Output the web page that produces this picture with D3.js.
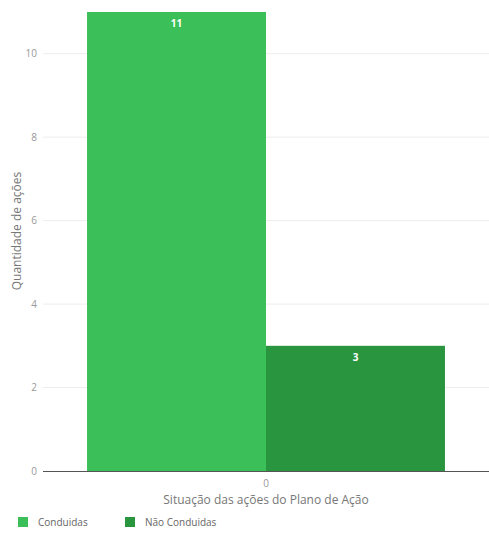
<!DOCTYPE html>
<html><head><meta charset="utf-8">
<script src="https://cdn.jsdelivr.net/npm/d3@7"></script>
<style>body{margin:0;background:#fff}svg{display:block;font-family:"Open Sans",sans-serif}</style>
</head><body><svg id="c" width="489" height="533"></svg>
<script>
const categories = ["0"];
const seriesNames = ["Conduidas", "Não Conduidas"];
const seriesValues = [11, 3];
const seriesColors = ["#3bbf58", "#2a953f"];
const yTicks = [0, 2, 4, 6, 8, 10];

const svg = d3.select("#c");
const m = {l: 43, r: 0, t: 12, b: 62};
const W = 489, H = 533;
const x0 = d3.scaleBand().domain(categories).range([m.l, W - m.r]).paddingInner(0).paddingOuter(0.123);
const x1 = d3.scaleBand().domain(seriesNames).range([0, x0.bandwidth()]);
const y = d3.scaleLinear().domain([0, 11]).range([H - m.b, m.t]);

// grid
svg.append("g").selectAll("line").data(yTicks.filter(d => d > 0)).join("line")
  .attr("x1", m.l).attr("x2", W - m.r).attr("y1", d => y(d)).attr("y2", d => y(d))
  .attr("stroke", "#ededed").attr("stroke-width", 1);

// y tick labels
svg.append("g").selectAll("text").data(yTicks).join("text")
  .attr("x", 37).attr("y", d => y(d)).attr("dy", "0.35em").attr("text-anchor", "end")
  .attr("font-size", 10).attr("fill", "#999").text(d => d);

// bars
const g = svg.append("g");
categories.forEach(c => {
  seriesNames.forEach((s, i) => {
    const xx = x0(c) + x1(s);
    g.append("rect").attr("x", xx).attr("y", y(seriesValues[i]))
      .attr("width", x1.bandwidth()).attr("height", y(0) - y(seriesValues[i]))
      .attr("fill", seriesColors[i]);
    g.append("text").attr("x", xx + x1.bandwidth() / 2).attr("y", y(seriesValues[i]) + 15)
      .attr("text-anchor", "middle").attr("font-size", 10).attr("font-weight", "bold")
      .attr("fill", "#fff").text(seriesValues[i]);
  });
});

// baseline
svg.append("line").attr("x1", m.l).attr("x2", W - m.r).attr("y1", y(0) + 0.5).attr("y2", y(0) + 0.5)
  .attr("stroke", "#555").attr("stroke-width", 1);

// x tick labels
svg.append("g").selectAll("text").data(categories).join("text")
  .attr("x", d => x0(d) + x0.bandwidth() / 2).attr("y", y(0) + 16).attr("text-anchor", "middle")
  .attr("font-size", 10).attr("fill", "#999").text(d => d);

// axis titles
svg.append("text").attr("x", x0(categories[0]) + x0.bandwidth() / 2).attr("y", 504)
  .attr("text-anchor", "middle").attr("font-size", 12).attr("fill", "#777")
  .text("Situação das ações do Plano de Ação");
svg.append("text").attr("transform", "translate(21,231) rotate(-90)")
  .attr("text-anchor", "middle").attr("font-size", 12).attr("fill", "#777")
  .text("Quantidade de ações");

// legend
const legX = [18, 125];
seriesNames.forEach((s, i) => {
  svg.append("rect").attr("x", legX[i]).attr("y", 517).attr("width", 10).attr("height", 10).attr("fill", seriesColors[i]);
  svg.append("text").attr("x", legX[i] + 20).attr("y", 526).attr("font-size", 10).attr("fill", "#666").text(s);
});
</script></body></html>
